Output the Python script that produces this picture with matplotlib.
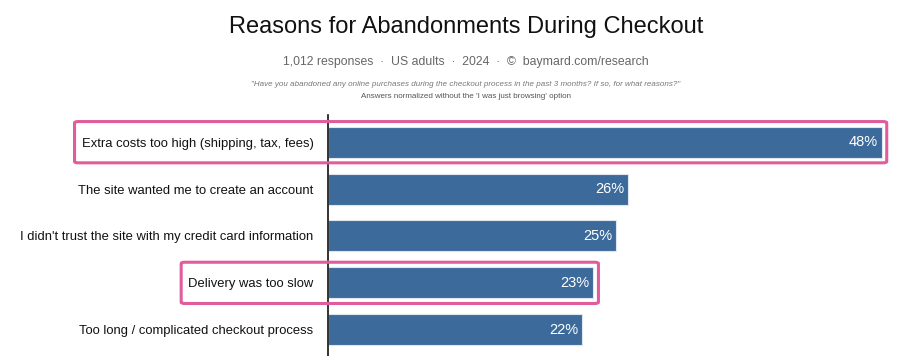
import matplotlib.pyplot as plt
from matplotlib.patches import FancyBboxPatch

plt.rcParams['font.family'] = ['Liberation Sans', 'DejaVu Sans']

reasons = [
    "Extra costs too high (shipping, tax, fees)",
    "The site wanted me to create an account",
    "I didn't trust the site with my credit card information",
    "Delivery was too slow",
    "Too long / complicated checkout process",
]
shares = [48, 26, 25, 23, 22]
highlighted = [0, 3]

bar_color = '#3c6b9b'
pink = '#e05c9c'

fig = plt.figure(figsize=(9, 3.56), dpi=100)
ax = fig.add_axes([328 / 900, 0, 572 / 900, 241 / 356])

y = list(range(len(reasons)))
ax.barh(y, shares, height=0.66, color=bar_color, edgecolor='#dfe6ee', linewidth=0.8)
ax.set_xlim(0, 49.6)
ax.set_ylim(4.56, -0.58)

ax.set_yticks(y)
ax.set_yticklabels(reasons, fontsize=9.4, color='#111111')
ax.tick_params(axis='y', length=0, pad=10.5)
ax.set_xticks([])
for side in ['top', 'right', 'bottom']:
    ax.spines[side].set_visible(False)
ax.spines['left'].set_linewidth(1.2)
ax.spines['left'].set_color('#111111')

for yi, v in zip(y, shares):
    ax.text(v - 0.3, yi, f"{v}%", color='white', fontsize=10.5,
            ha='right', va='center')

# pink highlight boxes around selected rows
fig.canvas.draw()
renderer = fig.canvas.get_renderer()
inv = ax.transData.inverted()
labels = ax.get_yticklabels()
for i in highlighted:
    bb = labels[i].get_window_extent(renderer)
    x_left = inv.transform((bb.x0 - 7, 0))[0]
    x_right = shares[i] + 0.45
    box = FancyBboxPatch((x_left, i - 0.44), x_right - x_left, 0.88,
                         boxstyle="round,pad=0,rounding_size=0.3",
                         fill=False, edgecolor=pink, linewidth=2.2,
                         clip_on=False, zorder=5, mutation_aspect=0.1)
    ax.add_patch(box)

cx = 466 / 900
fig.text(cx, 1 - 27 / 356, "Reasons for Abandonments During Checkout",
         ha='center', va='center', fontsize=17, color='#111111')
fig.text(cx, 1 - 62 / 356,
         "1,012 responses  \u00b7  US adults  \u00b7  2024  \u00b7  \u00a9  baymard.com/research",
         ha='center', va='center', fontsize=8.8, color='#666666')
fig.text(cx, 1 - 84 / 356,
         "\"Have you abandoned any online purchases during the checkout process in the past 3 months? If so, for what reasons?\"",
         ha='center', va='center', fontsize=5.75, color='#777777', style='italic')
fig.text(cx, 1 - 96 / 356,
         "Answers normalized without the 'I was just browsing' option",
         ha='center', va='center', fontsize=5.75, color='#555555')

fig.savefig('out.png', dpi=100, facecolor='white')
